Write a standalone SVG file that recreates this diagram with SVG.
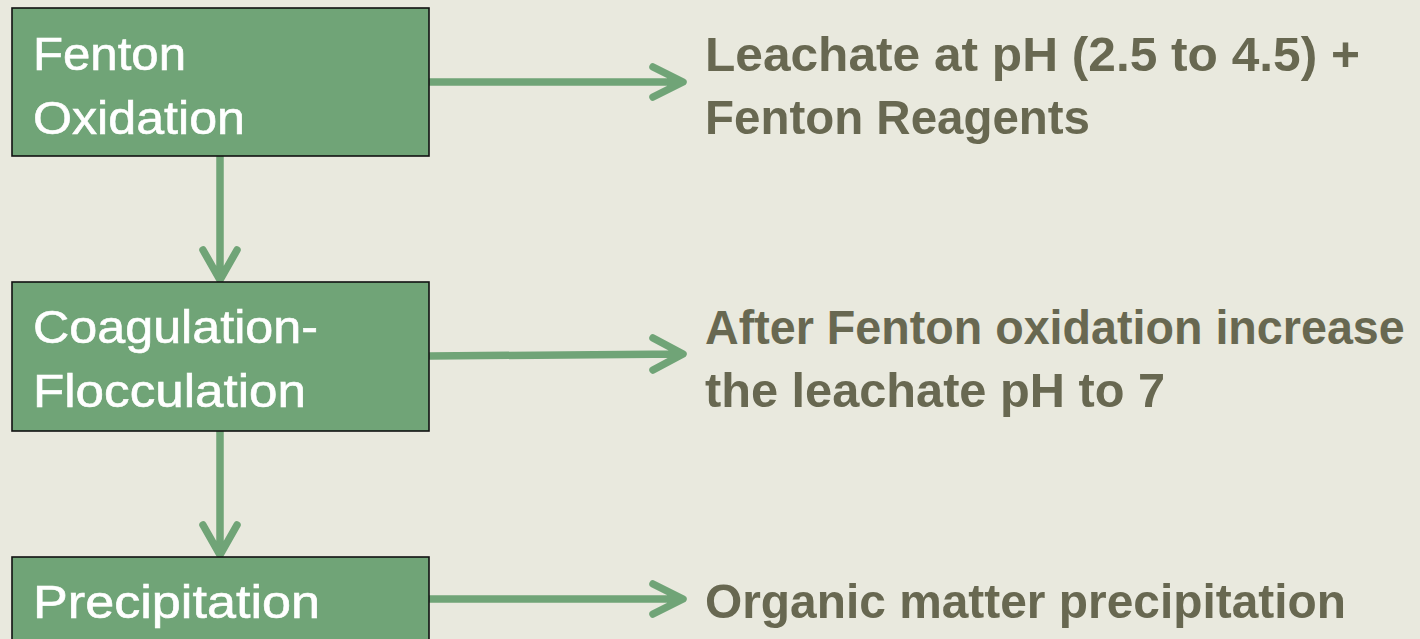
<svg xmlns="http://www.w3.org/2000/svg" width="1420" height="639" viewBox="0 0 1420 639">
<style>
.box{fill:#70A477;stroke:#111;stroke-width:1.6}
.bt{font-family:"Liberation Sans",Arial,sans-serif;font-size:47px;fill:#fff;stroke:#fff;stroke-width:0.6}
.rt{font-family:"Liberation Sans",Arial,sans-serif;font-size:49px;font-weight:bold;fill:#686851}
.con{fill:none;stroke:#70A477;stroke-width:7.5;stroke-linecap:round;stroke-linejoin:round}
</style>
<rect width="1420" height="639" fill="#E9E9DE"/>
<g id="connectors">
<path class="con" d="M220 157 V279 M203 250 L220 280 L237 250"/>
<path class="con" d="M220 431 V553 M203 525 L220 555 L237 525"/>
<path class="con" d="M430 82 H681 M653 67 L683 82 L653 97"/>
<path class="con" d="M430 356 L681 354 M653 338 L683 354 L653 370"/>
<path class="con" d="M430 599 H681 M653 584 L683 599 L653 614"/>
</g>
<g id="n1">
<rect class="box" x="12" y="8" width="417" height="148"/>
<text class="bt" x="33" y="70" textLength="153" lengthAdjust="spacingAndGlyphs">Fenton</text>
<text class="bt" x="33" y="134" textLength="212" lengthAdjust="spacingAndGlyphs">Oxidation</text>
</g>
<g id="n2">
<rect class="box" x="12" y="282" width="417" height="149"/>
<text class="bt" x="33" y="343" textLength="285" lengthAdjust="spacingAndGlyphs">Coagulation-</text>
<text class="bt" x="33" y="407" textLength="273" lengthAdjust="spacingAndGlyphs">Flocculation</text>
</g>
<g id="n3">
<rect class="box" x="12" y="557" width="417" height="110"/>
<text class="bt" x="33" y="618" textLength="287" lengthAdjust="spacingAndGlyphs">Precipitation</text>
</g>
<g id="l1">
<text class="rt" x="705" y="71" textLength="655" lengthAdjust="spacingAndGlyphs">Leachate at pH (2.5 to 4.5) +</text>
<text class="rt" x="705" y="134" textLength="385" lengthAdjust="spacingAndGlyphs">Fenton Reagents</text>
</g>
<g id="l2">
<text class="rt" transform="translate(705 344) scale(0.84 1)" x="0" y="0" textLength="833" lengthAdjust="spacingAndGlyphs">After Fenton oxidation increase</text>
<text class="rt" x="705" y="407" textLength="460" lengthAdjust="spacingAndGlyphs">the leachate pH to 7</text>
</g>
<g id="l3">
<text class="rt" x="705" y="618" textLength="641" lengthAdjust="spacingAndGlyphs">Organic matter precipitation</text>
</g>
</svg>
